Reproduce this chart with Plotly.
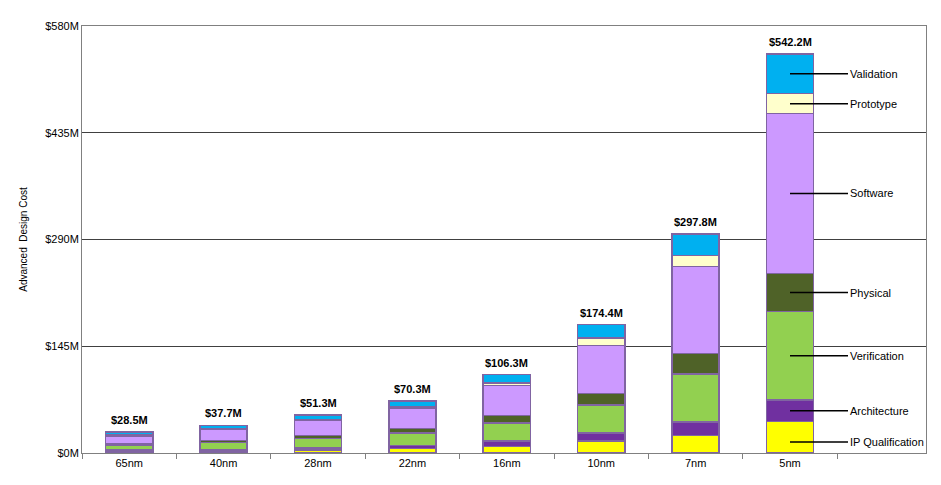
import plotly.graph_objects as go

nodes = ["65nm", "40nm", "28nm", "22nm", "16nm", "10nm", "7nm", "5nm"]
ip_qual = [2, 3, 4, 6, 9, 16, 24, 43]
architecture = [2, 2, 3, 4, 7, 11, 18, 29]
verification = [6, 9, 13, 17, 25, 38, 65, 120]
physical = [2, 3, 4, 6, 10, 16, 28, 52]
software = [11, 15, 20, 28, 41, 65, 118, 217]
prototype = [1.5, 1.5, 1.5, 2, 3, 10, 15, 27]
totals = [28.5, 37.7, 51.3, 70.3, 106.3, 174.4, 297.8, 542.2]
validation = [round(t - a - b - c - d - e - f, 1) for t, a, b, c, d, e, f in
              zip(totals, ip_qual, architecture, verification, physical, software, prototype)]

series = [
    ("IP Qualification", ip_qual, "#FFFF00"),
    ("Architecture", architecture, "#7030A0"),
    ("Verification", verification, "#92D050"),
    ("Physical", physical, "#4F6228"),
    ("Software", software, "#CC99FF"),
    ("Prototype", prototype, "#FFFFCC"),
    ("Validation", validation, "#00B0F0"),
]

fig = go.Figure()
base = 0
annotations = []
for name, vals, col in series:
    fig.add_trace(go.Bar(x=nodes, y=vals, name=name, width=0.5,
                         marker=dict(color=col, line=dict(color="#8064A2", width=1.5))))
    mid = base + vals[-1] / 2
    if name == "IP Qualification":
        mid = base + vals[-1] * 0.35
    annotations.append(dict(x="5nm", y=mid, text=name, showarrow=True, arrowhead=0,
                            arrowwidth=1.5, arrowcolor="black", ax=58, ay=0,
                            xanchor="left", font=dict(size=11, color="black")))
    base += vals[-1]

for n, t in zip(nodes, totals):
    annotations.append(dict(x=n, y=t, text="<b>$%.1fM</b>" % t, showarrow=False,
                            yshift=12, font=dict(size=11, color="black")))

fig.update_layout(
    barmode="stack", width=941, height=485, showlegend=False,
    plot_bgcolor="white", paper_bgcolor="white",
    margin=dict(l=74, r=23, t=18, b=40),
    font=dict(family="Liberation Sans, Arial", size=11, color="black"),
    annotations=annotations, bargap=0.5,
)
fig.update_xaxes(showline=True, linecolor="#808080", mirror=True, ticks="outside",
                 tickson="boundaries", ticklen=5, tickcolor="#808080")
fig.update_yaxes(range=[0, 580], tickvals=[0, 145, 290, 435, 580],
                 ticktext=["$0M", "$145M", "$290M", "$435M", "$580M"],
                 showgrid=True, gridcolor="#404040", gridwidth=1,
                 showline=True, linecolor="#808080", mirror=True,
                 title=dict(text="Advanced  Design Cost", font=dict(size=10)))
fig.write_html("out.html")
